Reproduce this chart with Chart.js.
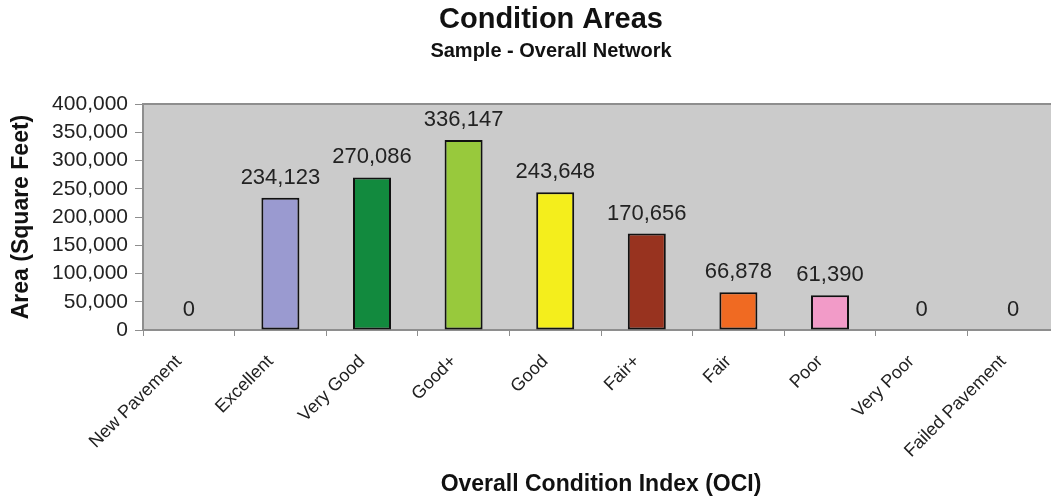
<!DOCTYPE html>
<html>
<head>
<meta charset="utf-8">
<script src="https://cdn.jsdelivr.net/npm/chart.js@4.4.1/dist/chart.umd.min.js"></script>
<style>
  html, body { margin: 0; padding: 0; background: #fff; overflow: hidden; }
  #wrap { width: 1102px; height: 501px; }
</style>
</head>
<body>
<div id="wrap"><canvas id="cc" width="1102" height="501"></canvas></div>
<script>
// chart data
const categories = ["New Pavement", "Excellent", "Very Good", "Good+", "Good", "Fair+", "Fair", "Poor", "Very Poor", "Failed Pavement"];
const areas = [0, 234123, 270086, 336147, 243648, 170656, 66878, 61390, 0, 0];
const barColors = ["#9a9ad0", "#9a9ad0", "#128a3e", "#98c93c", "#f4ee1c", "#98331f", "#f06a22", "#f29bc8", "#9a9ad0", "#9a9ad0"];
const yTicks = [0, 50000, 100000, 150000, 200000, 250000, 300000, 350000, 400000];
const chartTitle = "Condition Areas";
const chartSubtitle = "Sample - Overall Network";

const FONT = "'Liberation Sans', Arial, Helvetica, sans-serif";

function fmt(v) {
	return v.toLocaleString("en-US");
}

// gray plot background with border
const plotBg = {
	id: "plotBg",
	beforeDraw(chart) {
		const a = chart.chartArea;
		const ctx = chart.ctx;
		ctx.save();
		ctx.fillStyle = "#cbcbcb";
		ctx.fillRect(a.left, a.top, a.right - a.left, a.bottom - a.top);
		ctx.strokeStyle = "#8e8e8e";
		ctx.lineWidth = 2;
		ctx.strokeRect(a.left, a.top, a.right - a.left, a.bottom - a.top);
		ctx.restore();
	}
};

// titles centred on the whole chart width (incl. right margin)
const titleText = {
	id: "titleText",
	afterDraw(chart) {
		const ctx = chart.ctx;
		const cx = chart.width / 2;
		ctx.save();
		ctx.fillStyle = "#111";
		ctx.textAlign = "center";
		ctx.textBaseline = "middle";
		ctx.font = "bold 29px " + FONT;
		ctx.fillText(chartTitle, cx, 20);
		ctx.font = "bold 20px " + FONT;
		ctx.fillText(chartSubtitle, cx, 51);
		ctx.restore();
	}
};

// value labels above each bar
const valueLabels = {
	id: "valueLabels",
	afterDatasetsDraw(chart) {
		const ctx = chart.ctx;
		const meta = chart.getDatasetMeta(0);
		ctx.save();
		ctx.font = "22px " + FONT;
		ctx.fillStyle = "#222";
		ctx.textAlign = "center";
		ctx.textBaseline = "bottom";
		meta.data.forEach(function(bar, i) {
			ctx.fillText(fmt(areas[i]), bar.x, bar.y - 9);
		});
		ctx.restore();
	}
};

let chartId = document.getElementById("cc");
let chart = new Chart(chartId, {
	type: "bar",
	data: {
		labels: categories,
		datasets: [
			{
				label: "Area",
				data: areas,
				backgroundColor: barColors,
				borderColor: "#111",
				borderWidth: 2,
				borderSkipped: false,
				barPercentage: 0.415,
				categoryPercentage: 1
			}
		]
	},
	options: {
		responsive: false,
		animation: false,
		layout: {
			padding: { left: 0, right: 43, top: 104, bottom: 0 }
		},
		plugins: {
			legend: { display: false },
			tooltip: { enabled: false },
			title: { display: false }
		},
		scales: {
			x: {
				grid: {
					display: true,
					drawOnChartArea: false,
					offset: true,
					tickLength: 6,
					color: "#8e8e8e",
					lineWidth: 1
				},
				border: { display: true, color: "#8e8e8e", width: 2 },
				ticks: {
					color: "#222",
					font: { family: FONT, size: 18 },
					minRotation: 45,
					maxRotation: 45,
					autoSkip: false,
					padding: 15,
					labelOffset: -10
				},
				title: {
					display: true,
					text: "Overall Condition Index (OCI)",
					color: "#111",
					font: { family: FONT, size: 23, weight: "bold" },
					padding: { top: 0, bottom: 3 }
				},
				afterFit(scale) {
					scale.height = 171;
				}
			},
			y: {
				min: 0,
				max: 400000,
				afterBuildTicks(scale) {
					scale.ticks = yTicks.map(function(v) { return { value: v }; });
				},
				grid: {
					display: true,
					drawOnChartArea: false,
					tickLength: 8,
					color: "#8e8e8e"
				},
				border: { display: true, color: "#8e8e8e", width: 2 },
				ticks: {
					color: "#222",
					font: { family: FONT, size: 21 },
					padding: 7,
					callback: function(v) { return fmt(v); }
				},
				title: {
					display: true,
					text: "Area (Square Feet)",
					color: "#111",
					font: { family: FONT, size: 23, weight: "bold" },
					padding: { top: 8, bottom: 0 }
				},
				afterFit(scale) {
					scale.width = 143;
				}
			}
		}
	},
	plugins: [plotBg, valueLabels, titleText]
});
</script>
</body>
</html>
